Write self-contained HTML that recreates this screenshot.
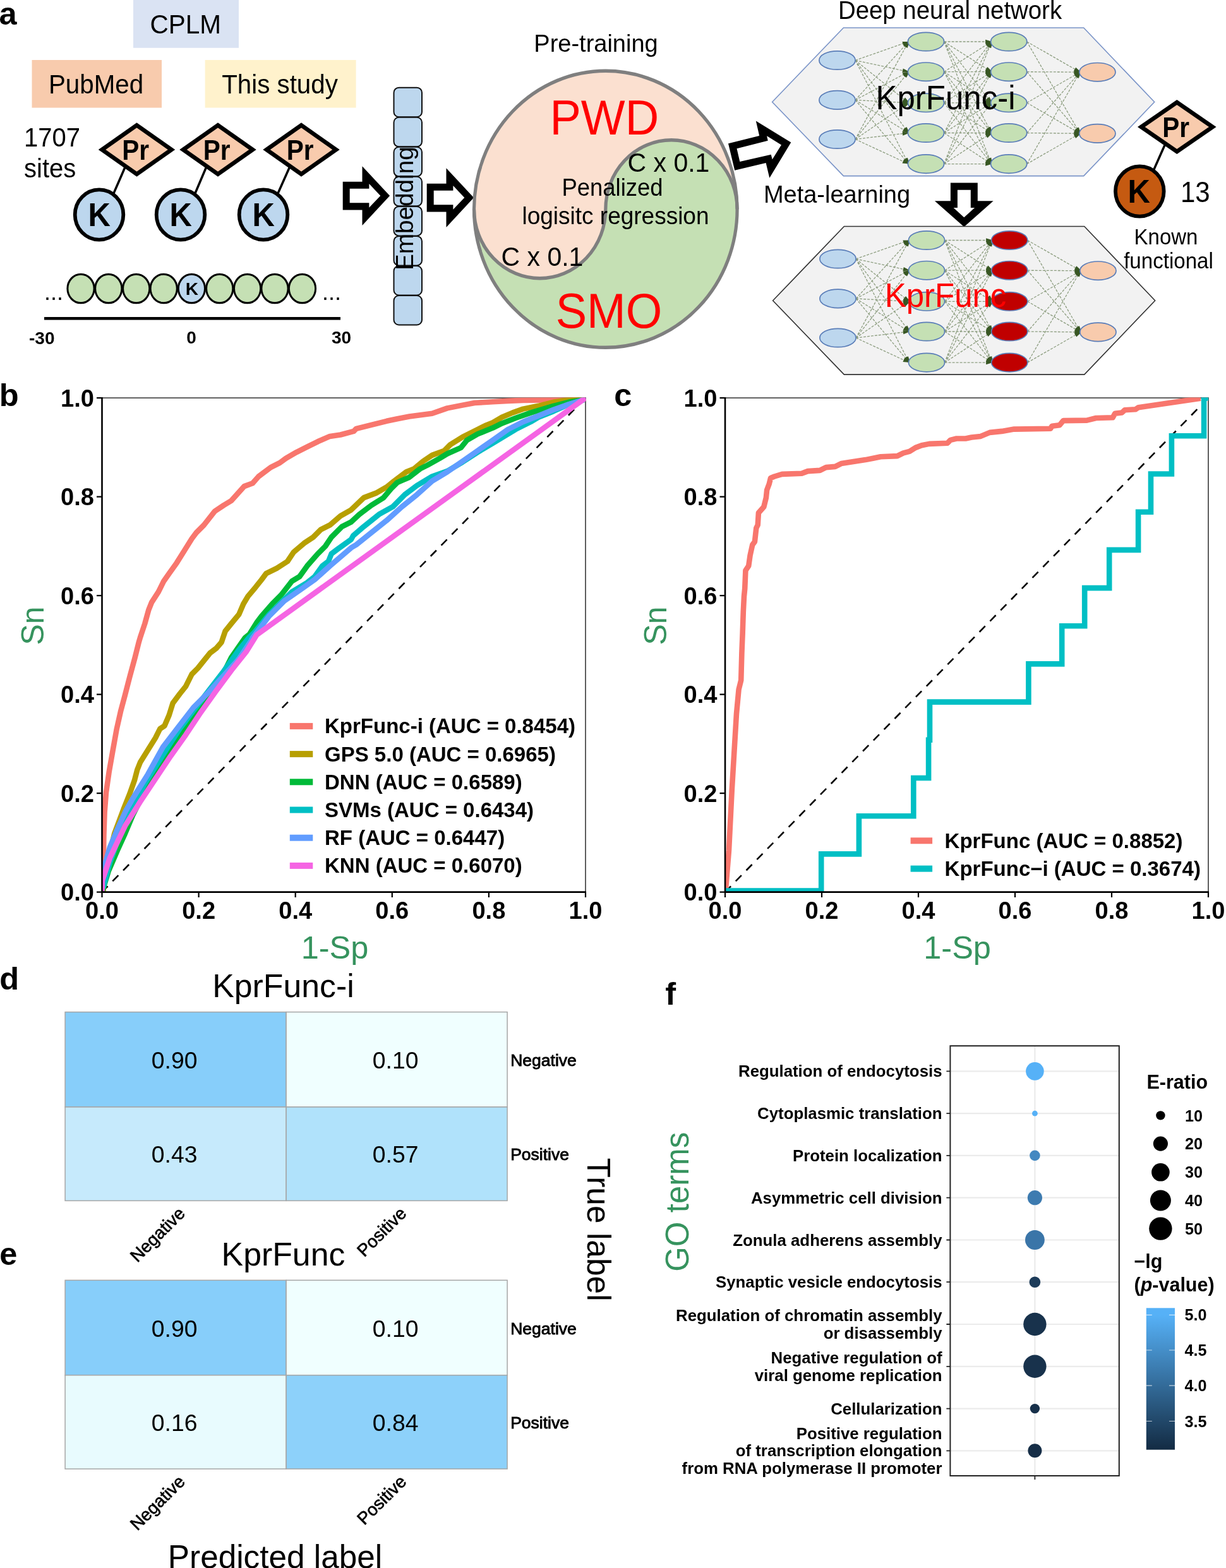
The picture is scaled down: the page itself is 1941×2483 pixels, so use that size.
<!DOCTYPE html>
<html lang="en"><head><meta charset="utf-8"><title>Figure</title>
<style>
html,body{margin:0;padding:0;background:#fff;}
body{width:1941px;height:2483px;overflow:hidden;}
svg{display:block;filter:blur(0.5px);font-family:"Liberation Sans",sans-serif;}
</style></head><body>
<svg width="1941" height="2483" viewBox="0 0 1941 2483">
<rect width="1941" height="2483" fill="#fff"/>
<text x="-1.5" y="39" font-size="50.5" font-weight="bold" fill="#000" text-anchor="start">a</text>
<rect x="211" y="0" width="167" height="75.8" fill="#dae3f3"/>
<text transform="translate(293.7 53.3) scale(1 1.04)" font-size="40.5" fill="#000" text-anchor="middle">CPLM</text>
<rect x="50.5" y="95" width="205.5" height="75.6" fill="#f8cbad"/>
<text transform="translate(152 147.6) scale(1 1.04)" font-size="40.3" fill="#000" text-anchor="middle">PubMed</text>
<rect x="324.6" y="95" width="239" height="75.6" fill="#fff2cc"/>
<text transform="translate(443 147.6) scale(1 1.04)" font-size="40.3" fill="#000" text-anchor="middle">This study</text>
<text transform="translate(38 232) scale(1 1.04)" font-size="40" fill="#000" text-anchor="start">1707</text>
<text transform="translate(38 281) scale(1 1.04)" font-size="40" fill="#000" text-anchor="start">sites</text>
<line x1="199.2" y1="262" x2="178.3" y2="310" stroke="#000" stroke-width="3.5"/>
<line x1="327.7" y1="262" x2="307.3" y2="310" stroke="#000" stroke-width="3.5"/>
<line x1="459.7" y1="262" x2="438.3" y2="310" stroke="#000" stroke-width="3.5"/>
<polygon points="161.5,237 216.5,198.3 271.5,237 216.5,275.7" fill="#f8cbad" stroke="#000" stroke-width="6.6" stroke-linejoin="miter"/><text transform="translate(214.7 253) scale(1 1.1)" font-size="40.5" font-weight="bold" fill="#000" text-anchor="middle">Pr</text>
<polygon points="290,237 345,198.3 400,237 345,275.7" fill="#f8cbad" stroke="#000" stroke-width="6.6" stroke-linejoin="miter"/><text transform="translate(343.2 253) scale(1 1.1)" font-size="40.5" font-weight="bold" fill="#000" text-anchor="middle">Pr</text>
<polygon points="422,237 477,198.3 532,237 477,275.7" fill="#f8cbad" stroke="#000" stroke-width="6.6" stroke-linejoin="miter"/><text transform="translate(475.2 253) scale(1 1.1)" font-size="40.5" font-weight="bold" fill="#000" text-anchor="middle">Pr</text>
<ellipse cx="157" cy="340" rx="38.3" ry="39.699999999999996" fill="#bdd7ee" stroke="#000" stroke-width="5.8"/><text transform="translate(157.3 357.5) scale(1 1.07)" font-size="49" font-weight="bold" fill="#000" text-anchor="middle">K</text>
<ellipse cx="286" cy="340" rx="38.3" ry="39.699999999999996" fill="#bdd7ee" stroke="#000" stroke-width="5.8"/><text transform="translate(286.3 357.5) scale(1 1.07)" font-size="49" font-weight="bold" fill="#000" text-anchor="middle">K</text>
<ellipse cx="417" cy="340" rx="38.3" ry="39.699999999999996" fill="#bdd7ee" stroke="#000" stroke-width="5.8"/><text transform="translate(417.3 357.5) scale(1 1.07)" font-size="49" font-weight="bold" fill="#000" text-anchor="middle">K</text>
<ellipse cx="128" cy="457" rx="21.1" ry="22.8" fill="#c5e0b4" stroke="#000" stroke-width="3"/>
<ellipse cx="171.8" cy="457" rx="21.1" ry="22.8" fill="#c5e0b4" stroke="#000" stroke-width="3"/>
<ellipse cx="215.7" cy="457" rx="21.1" ry="22.8" fill="#c5e0b4" stroke="#000" stroke-width="3"/>
<ellipse cx="259.2" cy="457" rx="21.1" ry="22.8" fill="#c5e0b4" stroke="#000" stroke-width="3"/>
<ellipse cx="303.4" cy="457" rx="21.1" ry="22.8" fill="#bdd7ee" stroke="#000" stroke-width="3"/>
<ellipse cx="347.7" cy="457" rx="21.1" ry="22.8" fill="#c5e0b4" stroke="#000" stroke-width="3"/>
<ellipse cx="391.6" cy="457" rx="21.1" ry="22.8" fill="#c5e0b4" stroke="#000" stroke-width="3"/>
<ellipse cx="435" cy="457" rx="21.1" ry="22.8" fill="#c5e0b4" stroke="#000" stroke-width="3"/>
<ellipse cx="478.5" cy="457" rx="21.1" ry="22.8" fill="#c5e0b4" stroke="#000" stroke-width="3"/>
<text x="303.8" y="467" font-size="28" font-weight="bold" fill="#000" text-anchor="middle">K</text>
<text x="70" y="475" font-size="36" fill="#000" text-anchor="start">...</text>
<text x="510" y="475" font-size="36" fill="#000" text-anchor="start">...</text>
<rect x="70" y="502" width="469" height="4.6" fill="#000"/>
<text x="46" y="545" font-size="28" font-weight="bold" fill="#000" text-anchor="start">-30</text>
<text x="303" y="544" font-size="28" font-weight="bold" fill="#000" text-anchor="middle">0</text>
<text x="525" y="544" font-size="28" font-weight="bold" fill="#000" text-anchor="start">30</text>
<rect x="623.5" y="138.7" width="44.5" height="46.5" rx="8" ry="8" fill="#bdd7ee" stroke="#111" stroke-width="2"/>
<rect x="623.5" y="185.8" width="44.5" height="46.5" rx="8" ry="8" fill="#bdd7ee" stroke="#111" stroke-width="2"/>
<rect x="623.5" y="232.8" width="44.5" height="46.5" rx="8" ry="8" fill="#bdd7ee" stroke="#111" stroke-width="2"/>
<rect x="623.5" y="279.8" width="44.5" height="46.5" rx="8" ry="8" fill="#bdd7ee" stroke="#111" stroke-width="2"/>
<rect x="623.5" y="326.9" width="44.5" height="46.5" rx="8" ry="8" fill="#bdd7ee" stroke="#111" stroke-width="2"/>
<rect x="623.5" y="373.9" width="44.5" height="46.5" rx="8" ry="8" fill="#bdd7ee" stroke="#111" stroke-width="2"/>
<rect x="623.5" y="421.0" width="44.5" height="46.5" rx="8" ry="8" fill="#bdd7ee" stroke="#111" stroke-width="2"/>
<rect x="623.5" y="468.0" width="44.5" height="46.5" rx="8" ry="8" fill="#bdd7ee" stroke="#111" stroke-width="2"/>
<text x="0" y="0" font-size="38.7" fill="#000" text-anchor="start" transform="translate(654 428) rotate(-90)">Embedding</text>
<g><polygon points="542.7,287.7 573.5,287.7 573.5,263.3 617.1,310.0 573.5,356.9 573.5,332.5 542.7,332.5" fill="#000"/><polygon points="553.7,298.8 584.4,298.8 584.4,291.0 602.3,310.0 584.4,328.7 584.4,321.3 553.7,321.3" fill="#fff"/></g>
<g><polygon points="675.7,290.7 706.5,290.7 706.5,266.3 750.1,313.0 706.5,359.9 706.5,335.5 675.7,335.5" fill="#000"/><polygon points="686.7,301.8 717.4,301.8 717.4,294.0 735.3,313.0 717.4,331.7 717.4,324.3 686.7,324.3" fill="#fff"/></g>
<g transform="translate(0 331.3) scale(1 1.0515) translate(0 -331.3)">
<circle cx="958.8" cy="331.3" r="208.3" fill="#c5e0b4"/>
<path d="M750.5 331.3A208.3 208.3 0 0 1 1167.1 331.3A104.15 104.15 0 0 0 958.8 331.3A104.15 104.15 0 0 1 750.5 331.3Z" fill="#fbe0d0"/>
<path d="M1167.1 331.3A104.15 104.15 0 0 0 958.8 331.3A104.15 104.15 0 0 1 750.5 331.3" fill="none" stroke="#7f7f7f" stroke-width="5.2"/>
<circle cx="958.8" cy="331.3" r="208.3" fill="none" stroke="#7f7f7f" stroke-width="5.2"/>
</g>
<text transform="translate(956.8 213) scale(1 1.04)" font-size="74" fill="#ff0000" text-anchor="middle">PWD</text>
<text transform="translate(964 518.5) scale(1 1.04)" font-size="74" fill="#ff0000" text-anchor="middle">SMO</text>
<text transform="translate(1058.5 272) scale(1 1.04)" font-size="41" fill="#000" text-anchor="middle">C x 0.1</text>
<text transform="translate(858.5 420.5) scale(1 1.04)" font-size="41" fill="#000" text-anchor="middle">C x 0.1</text>
<text transform="translate(969.5 309.5) scale(1 1.04)" font-size="36.5" fill="#000" text-anchor="middle">Penalized</text>
<text transform="translate(974.5 354.5) scale(1 1.04)" font-size="37" fill="#000" text-anchor="middle">logisitc regression</text>
<text transform="translate(943.5 82) scale(1 1.04)" font-size="38" fill="#000" text-anchor="middle">Pre-training</text>
<polygon points="1153,227.3 1202.2,215.1 1196.8,191.4 1252.3,225.5 1218.3,281.8 1212.6,257.9 1163.2,269.7" fill="#000"/>
<polygon points="1166.5,235.2 1215.7,222.7 1214.1,215.3 1237,229.6 1222.7,252.6 1220.7,244.7 1171.3,256.1" fill="#fff"/>
<text transform="translate(1504 30) scale(1 1.04)" font-size="38.4" fill="#000" text-anchor="middle">Deep neural network</text>
<polygon points="1222.6,161.5 1335.4,44.0 1715.7,44.0 1827.7,161.5 1715.7,278.6 1335.4,278.6" fill="#f2f2f2" stroke="#7a94c8" stroke-width="1.6"/>
<path d="M1354.1 95.5L1438.4 66.0M1354.1 95.5L1438.4 113.7M1354.1 95.5L1438.4 162.8M1354.1 95.5L1438.4 210.5M1354.1 95.5L1438.4 259.6M1354.1 158.4L1438.4 66.0M1354.1 158.4L1438.4 113.7M1354.1 158.4L1438.4 162.8M1354.1 158.4L1438.4 210.5M1354.1 158.4L1438.4 259.6M1354.1 220.5L1438.4 66.0M1354.1 220.5L1438.4 113.7M1354.1 220.5L1438.4 162.8M1354.1 220.5L1438.4 210.5M1354.1 220.5L1438.4 259.6M1494.6 66.0L1569.6 66.0M1494.6 66.0L1569.6 113.7M1494.6 66.0L1569.6 162.8M1494.6 66.0L1569.6 210.5M1494.6 66.0L1569.6 259.6M1494.6 113.7L1569.6 66.0M1494.6 113.7L1569.6 113.7M1494.6 113.7L1569.6 162.8M1494.6 113.7L1569.6 210.5M1494.6 113.7L1569.6 259.6M1494.6 162.8L1569.6 66.0M1494.6 162.8L1569.6 113.7M1494.6 162.8L1569.6 162.8M1494.6 162.8L1569.6 210.5M1494.6 162.8L1569.6 259.6M1494.6 210.5L1569.6 66.0M1494.6 210.5L1569.6 113.7M1494.6 210.5L1569.6 162.8M1494.6 210.5L1569.6 210.5M1494.6 210.5L1569.6 259.6M1494.6 259.6L1569.6 66.0M1494.6 259.6L1569.6 113.7M1494.6 259.6L1569.6 162.8M1494.6 259.6L1569.6 210.5M1494.6 259.6L1569.6 259.6M1625.8 66.0L1709.8 114.2M1625.8 66.0L1709.8 211.4M1625.8 113.7L1709.8 114.2M1625.8 113.7L1709.8 211.4M1625.8 162.8L1709.8 114.2M1625.8 162.8L1709.8 211.4M1625.8 210.5L1709.8 114.2M1625.8 210.5L1709.8 211.4M1625.8 259.6L1709.8 114.2M1625.8 259.6L1709.8 211.4" fill="none" stroke="#4f6b3a" stroke-width="1.3" stroke-dasharray="4 2" opacity="0.62"/>
<path d="M1439.9 66.0L1430.5 72.2L1428.4 66.1ZM1439.9 113.7L1428.4 114.8L1429.8 108.6ZM1439.9 162.8L1429.0 159.4L1433.0 154.4ZM1439.9 210.5L1430.2 204.7L1435.4 200.9ZM1439.9 259.6L1431.2 252.6L1436.9 249.7ZM1439.9 66.0L1434.4 75.2L1429.6 70.9ZM1439.9 113.7L1431.5 121.0L1428.5 115.3ZM1439.9 162.8L1428.7 165.5L1429.1 159.1ZM1439.9 210.5L1428.6 208.2L1432.0 202.8ZM1439.9 259.6L1429.9 254.3L1434.8 250.3ZM1439.9 66.0L1436.7 75.9L1431.0 72.8ZM1439.9 113.7L1435.0 123.1L1430.0 119.2ZM1439.9 162.8L1432.4 170.8L1428.8 165.5ZM1439.9 210.5L1429.3 214.8L1428.6 208.4ZM1439.9 259.6L1428.4 258.5L1431.1 252.7ZM1571.1 66.0L1560.1 69.2L1560.1 62.8ZM1571.1 113.7L1559.9 111.3L1563.3 105.9ZM1571.1 162.8L1561.3 157.3L1566.3 153.3ZM1571.1 210.5L1562.4 203.5L1568.1 200.6ZM1571.1 259.6L1563.2 251.9L1569.2 249.6ZM1571.1 66.0L1563.3 73.8L1559.9 68.4ZM1571.1 113.7L1560.1 116.9L1560.1 110.5ZM1571.1 162.8L1559.9 160.3L1563.4 154.9ZM1571.1 210.5L1561.3 205.0L1566.3 201.0ZM1571.1 259.6L1562.4 252.6L1568.1 249.7ZM1571.1 66.0L1566.3 75.5L1561.3 71.5ZM1571.1 113.7L1563.4 121.6L1559.9 116.2ZM1571.1 162.8L1560.1 166.0L1560.1 159.6ZM1571.1 210.5L1559.9 208.1L1563.3 202.7ZM1571.1 259.6L1561.3 254.1L1566.3 250.1ZM1571.1 66.0L1568.1 75.9L1562.4 73.0ZM1571.1 113.7L1566.3 123.2L1561.3 119.2ZM1571.1 162.8L1563.3 170.6L1559.9 165.2ZM1571.1 210.5L1560.1 213.7L1560.1 207.3ZM1571.1 259.6L1559.9 257.1L1563.4 251.7ZM1571.1 66.0L1569.2 76.0L1563.2 73.7ZM1571.1 113.7L1568.1 123.6L1562.4 120.7ZM1571.1 162.8L1566.3 172.3L1561.3 168.3ZM1571.1 210.5L1563.4 218.4L1559.9 213.0ZM1571.1 259.6L1560.1 262.8L1560.1 256.4ZM1711.3 114.2L1700.0 112.2L1703.2 106.7ZM1711.3 211.4L1702.3 204.8L1707.8 201.6ZM1711.3 114.2L1700.3 117.3L1700.3 110.9ZM1711.3 211.4L1701.2 206.3L1706.0 202.1ZM1711.3 114.2L1703.2 121.7L1700.0 116.2ZM1711.3 211.4L1700.0 209.4L1703.2 203.9ZM1711.3 114.2L1706.0 123.5L1701.1 119.3ZM1711.3 211.4L1700.3 214.5L1700.3 208.1ZM1711.3 114.2L1707.8 124.0L1702.3 120.8ZM1711.3 211.4L1703.2 218.9L1700.0 213.4Z" fill="#385723"/>
<ellipse cx="1325.5" cy="95.5" rx="28.6" ry="14.7" fill="#bdd7ee" stroke="#5a7db8" stroke-width="1.7"/><ellipse cx="1325.5" cy="158.4" rx="28.6" ry="14.7" fill="#bdd7ee" stroke="#5a7db8" stroke-width="1.7"/><ellipse cx="1325.5" cy="220.5" rx="28.6" ry="14.7" fill="#bdd7ee" stroke="#5a7db8" stroke-width="1.7"/>
<ellipse cx="1466.0" cy="66.0" rx="28.6" ry="14.7" fill="#c5e0b4" stroke="#5a7db8" stroke-width="1.7"/><ellipse cx="1466.0" cy="113.7" rx="28.6" ry="14.7" fill="#c5e0b4" stroke="#5a7db8" stroke-width="1.7"/><ellipse cx="1466.0" cy="162.8" rx="28.6" ry="14.7" fill="#c5e0b4" stroke="#5a7db8" stroke-width="1.7"/><ellipse cx="1466.0" cy="210.5" rx="28.6" ry="14.7" fill="#c5e0b4" stroke="#5a7db8" stroke-width="1.7"/><ellipse cx="1466.0" cy="259.6" rx="28.6" ry="14.7" fill="#c5e0b4" stroke="#5a7db8" stroke-width="1.7"/>
<ellipse cx="1597.2" cy="66.0" rx="28.6" ry="14.7" fill="#c5e0b4" stroke="#5a7db8" stroke-width="1.7"/><ellipse cx="1597.2" cy="113.7" rx="28.6" ry="14.7" fill="#c5e0b4" stroke="#5a7db8" stroke-width="1.7"/><ellipse cx="1597.2" cy="162.8" rx="28.6" ry="14.7" fill="#c5e0b4" stroke="#5a7db8" stroke-width="1.7"/><ellipse cx="1597.2" cy="210.5" rx="28.6" ry="14.7" fill="#c5e0b4" stroke="#5a7db8" stroke-width="1.7"/><ellipse cx="1597.2" cy="259.6" rx="28.6" ry="14.7" fill="#c5e0b4" stroke="#5a7db8" stroke-width="1.7"/>
<ellipse cx="1737.4" cy="114.2" rx="28.6" ry="14.7" fill="#f8cbad" stroke="#5a7db8" stroke-width="1.7"/><ellipse cx="1737.4" cy="211.4" rx="28.6" ry="14.7" fill="#f8cbad" stroke="#5a7db8" stroke-width="1.7"/>
<text transform="translate(1497 172.8) scale(1 1.04)" font-size="51" fill="#000" text-anchor="middle">KprFunc-i</text>
<text transform="translate(1325 321) scale(1 1.04)" font-size="38" fill="#000" text-anchor="middle">Meta-learning</text>
<polygon points="1504.9,289.5 1547.8,289.5 1547.8,318.2 1572.6,318.2 1526.3,359.2 1479.9,318.2 1504.9,318.2" fill="#000"/>
<polygon points="1515.9,300.8 1536.8,300.8 1536.8,329 1543.1,329 1526.3,344.3 1509.6,329 1515.9,329" fill="#fff"/>
<polygon points="1223.6,476.0 1336.4,358.5 1716.7,358.5 1828.7,476.0 1716.7,593.1 1336.4,593.1" fill="#f2f2f2" stroke="#333" stroke-width="1.6"/>
<path d="M1355.1 410.0L1439.4 380.5M1355.1 410.0L1439.4 428.2M1355.1 410.0L1439.4 477.3M1355.1 410.0L1439.4 525.0M1355.1 410.0L1439.4 574.1M1355.1 472.9L1439.4 380.5M1355.1 472.9L1439.4 428.2M1355.1 472.9L1439.4 477.3M1355.1 472.9L1439.4 525.0M1355.1 472.9L1439.4 574.1M1355.1 535.0L1439.4 380.5M1355.1 535.0L1439.4 428.2M1355.1 535.0L1439.4 477.3M1355.1 535.0L1439.4 525.0M1355.1 535.0L1439.4 574.1M1495.6 380.5L1570.6 380.5M1495.6 380.5L1570.6 428.2M1495.6 380.5L1570.6 477.3M1495.6 380.5L1570.6 525.0M1495.6 380.5L1570.6 574.1M1495.6 428.2L1570.6 380.5M1495.6 428.2L1570.6 428.2M1495.6 428.2L1570.6 477.3M1495.6 428.2L1570.6 525.0M1495.6 428.2L1570.6 574.1M1495.6 477.3L1570.6 380.5M1495.6 477.3L1570.6 428.2M1495.6 477.3L1570.6 477.3M1495.6 477.3L1570.6 525.0M1495.6 477.3L1570.6 574.1M1495.6 525.0L1570.6 380.5M1495.6 525.0L1570.6 428.2M1495.6 525.0L1570.6 477.3M1495.6 525.0L1570.6 525.0M1495.6 525.0L1570.6 574.1M1495.6 574.1L1570.6 380.5M1495.6 574.1L1570.6 428.2M1495.6 574.1L1570.6 477.3M1495.6 574.1L1570.6 525.0M1495.6 574.1L1570.6 574.1M1626.8 380.5L1710.8 428.7M1626.8 380.5L1710.8 525.9M1626.8 428.2L1710.8 428.7M1626.8 428.2L1710.8 525.9M1626.8 477.3L1710.8 428.7M1626.8 477.3L1710.8 525.9M1626.8 525.0L1710.8 428.7M1626.8 525.0L1710.8 525.9M1626.8 574.1L1710.8 428.7M1626.8 574.1L1710.8 525.9" fill="none" stroke="#4f6b3a" stroke-width="1.3" stroke-dasharray="4 2" opacity="0.62"/>
<path d="M1440.9 380.5L1431.5 386.7L1429.4 380.6ZM1440.9 428.2L1429.4 429.3L1430.8 423.1ZM1440.9 477.3L1430.0 473.9L1434.0 468.9ZM1440.9 525.0L1431.2 519.2L1436.4 515.4ZM1440.9 574.1L1432.2 567.1L1437.9 564.2ZM1440.9 380.5L1435.4 389.7L1430.6 385.4ZM1440.9 428.2L1432.5 435.5L1429.5 429.8ZM1440.9 477.3L1429.7 480.0L1430.1 473.6ZM1440.9 525.0L1429.6 522.7L1433.0 517.3ZM1440.9 574.1L1430.9 568.8L1435.8 564.8ZM1440.9 380.5L1437.7 390.4L1432.0 387.3ZM1440.9 428.2L1436.0 437.6L1431.0 433.7ZM1440.9 477.3L1433.4 485.3L1429.8 480.0ZM1440.9 525.0L1430.3 529.3L1429.6 522.9ZM1440.9 574.1L1429.4 573.0L1432.1 567.2ZM1572.1 380.5L1561.1 383.7L1561.1 377.3ZM1572.1 428.2L1560.9 425.8L1564.3 420.4ZM1572.1 477.3L1562.3 471.8L1567.3 467.8ZM1572.1 525.0L1563.4 518.0L1569.1 515.1ZM1572.1 574.1L1564.2 566.4L1570.2 564.1ZM1572.1 380.5L1564.3 388.3L1560.9 382.9ZM1572.1 428.2L1561.1 431.4L1561.1 425.0ZM1572.1 477.3L1560.9 474.8L1564.4 469.4ZM1572.1 525.0L1562.3 519.5L1567.3 515.5ZM1572.1 574.1L1563.4 567.1L1569.1 564.2ZM1572.1 380.5L1567.3 390.0L1562.3 386.0ZM1572.1 428.2L1564.4 436.1L1560.9 430.7ZM1572.1 477.3L1561.1 480.5L1561.1 474.1ZM1572.1 525.0L1560.9 522.6L1564.3 517.2ZM1572.1 574.1L1562.3 568.6L1567.3 564.6ZM1572.1 380.5L1569.1 390.4L1563.4 387.5ZM1572.1 428.2L1567.3 437.7L1562.3 433.7ZM1572.1 477.3L1564.3 485.1L1560.9 479.7ZM1572.1 525.0L1561.1 528.2L1561.1 521.8ZM1572.1 574.1L1560.9 571.6L1564.4 566.2ZM1572.1 380.5L1570.2 390.5L1564.2 388.2ZM1572.1 428.2L1569.1 438.1L1563.4 435.2ZM1572.1 477.3L1567.3 486.8L1562.3 482.8ZM1572.1 525.0L1564.4 532.9L1560.9 527.5ZM1572.1 574.1L1561.1 577.3L1561.1 570.9ZM1712.3 428.7L1701.0 426.7L1704.2 421.2ZM1712.3 525.9L1703.3 519.3L1708.8 516.1ZM1712.3 428.7L1701.3 431.8L1701.3 425.4ZM1712.3 525.9L1702.2 520.8L1707.0 516.6ZM1712.3 428.7L1704.2 436.2L1701.0 430.7ZM1712.3 525.9L1701.0 523.9L1704.2 518.4ZM1712.3 428.7L1707.0 438.0L1702.1 433.8ZM1712.3 525.9L1701.3 529.0L1701.3 522.6ZM1712.3 428.7L1708.8 438.5L1703.3 435.3ZM1712.3 525.9L1704.2 533.4L1701.0 527.9Z" fill="#385723"/>
<ellipse cx="1326.5" cy="410.0" rx="28.6" ry="14.7" fill="#bdd7ee" stroke="#5a7db8" stroke-width="1.7"/><ellipse cx="1326.5" cy="472.9" rx="28.6" ry="14.7" fill="#bdd7ee" stroke="#5a7db8" stroke-width="1.7"/><ellipse cx="1326.5" cy="535.0" rx="28.6" ry="14.7" fill="#bdd7ee" stroke="#5a7db8" stroke-width="1.7"/>
<ellipse cx="1467.0" cy="380.5" rx="28.6" ry="14.7" fill="#c5e0b4" stroke="#5a7db8" stroke-width="1.7"/><ellipse cx="1467.0" cy="428.2" rx="28.6" ry="14.7" fill="#c5e0b4" stroke="#5a7db8" stroke-width="1.7"/><ellipse cx="1467.0" cy="477.3" rx="28.6" ry="14.7" fill="#c5e0b4" stroke="#5a7db8" stroke-width="1.7"/><ellipse cx="1467.0" cy="525.0" rx="28.6" ry="14.7" fill="#c5e0b4" stroke="#5a7db8" stroke-width="1.7"/><ellipse cx="1467.0" cy="574.1" rx="28.6" ry="14.7" fill="#c5e0b4" stroke="#5a7db8" stroke-width="1.7"/>
<ellipse cx="1598.2" cy="380.5" rx="28.6" ry="14.7" fill="#c00000" stroke="#5a7db8" stroke-width="1.7"/><ellipse cx="1598.2" cy="428.2" rx="28.6" ry="14.7" fill="#c00000" stroke="#5a7db8" stroke-width="1.7"/><ellipse cx="1598.2" cy="477.3" rx="28.6" ry="14.7" fill="#c00000" stroke="#5a7db8" stroke-width="1.7"/><ellipse cx="1598.2" cy="525.0" rx="28.6" ry="14.7" fill="#c00000" stroke="#5a7db8" stroke-width="1.7"/><ellipse cx="1598.2" cy="574.1" rx="28.6" ry="14.7" fill="#c00000" stroke="#5a7db8" stroke-width="1.7"/>
<ellipse cx="1738.4" cy="428.7" rx="28.6" ry="14.7" fill="#f8cbad" stroke="#5a7db8" stroke-width="1.7"/><ellipse cx="1738.4" cy="525.9" rx="28.6" ry="14.7" fill="#f8cbad" stroke="#5a7db8" stroke-width="1.7"/>
<text transform="translate(1497 486.2) scale(1 1.04)" font-size="51" fill="#ff0000" text-anchor="middle">KprFunc</text>
<line x1="1845.7" y1="226" x2="1825.3" y2="272" stroke="#000" stroke-width="3.5"/>
<polygon points="1806.8,201 1863.3,162 1919.8,201 1863.3,240" fill="#f8cbad" stroke="#000" stroke-width="6.6" stroke-linejoin="miter"/><text transform="translate(1861.5 217) scale(1 1.1)" font-size="40.5" font-weight="bold" fill="#000" text-anchor="middle">Pr</text>
<ellipse cx="1804.3" cy="303" rx="38.3" ry="39.699999999999996" fill="#c55a11" stroke="#000" stroke-width="5.8"/><text transform="translate(1803.3 320.5) scale(1 1.07)" font-size="49" font-weight="bold" fill="#000" text-anchor="middle">K</text>
<text transform="translate(1869 319.7) scale(1 1.08)" font-size="42" fill="#000" text-anchor="start">13</text>
<text transform="translate(1846 386.6) scale(1 1.05)" font-size="33" fill="#000" text-anchor="middle">Known</text>
<text transform="translate(1850 425.4) scale(1 1.05)" font-size="33.1" fill="#000" text-anchor="middle">functional</text>
<text x="-1.2" y="643" font-size="50.5" font-weight="bold" fill="#000" text-anchor="start">b</text>
<path d="M161.5 630.0999999999999H927.0V1412.6" fill="none" stroke="#4d4d4d" stroke-width="1.8"/>
<line x1="161.5" y1="1412.6" x2="927.0" y2="630.0999999999999" stroke="#000" stroke-width="2.6" stroke-dasharray="13 11"/>
<clipPath id="clipb"><rect x="161.5" y="629.5999999999999" width="766.3" height="783.0"/></clipPath><g clip-path="url(#clipb)">
<path d="M163.2 1411.6L163.7 1370.3L164.4 1322.3L165.6 1286.2L168.0 1255.0L172.8 1221.4L178.3 1190.2L184.8 1154.1L191.3 1125.3L198.0 1100.3L205.2 1072.5L213.7 1041.2L219.7 1017.2L222.1 1009.1L229.3 987.5L235.3 965.9L240.1 953.9L250.9 937.1L259.3 920.2L267.7 908.2L279.7 891.4L291.7 872.2L303.7 853.0L310.9 843.4L322.9 831.4L339.8 809.8L354.2 800.1L366.2 792.9L386.6 770.1L399.8 765.3L409.4 754.5L428.6 740.1L443.0 732.9L452.7 725.7L469.5 716.1L486.3 707.7L503.1 699.3L522.3 690.9L539.1 688.5L560.0 682.9L564.0 678.8L588.0 672.8L612.1 666.8L628.9 663.2L648.1 659.6L684.1 654.8L708.1 646.4L732.2 641.6L751.4 638.0L780.2 636.3L804.2 634.9L828.2 633.9L876.3 633.2L924.3 633.2" fill="none" stroke="#f8766d" stroke-width="8.6" stroke-linejoin="round"/>
<path d="M163.2 1411.6L169.2 1370.3L181.2 1319.9L195.6 1281.4L205.2 1257.4L212.9 1235.8L217.3 1219.0L222.1 1207.0L234.1 1187.7L246.1 1168.5L253.3 1154.1L260.5 1149.3L267.7 1132.5L273.7 1113.3L284.5 1098.9L294.1 1086.9L303.7 1067.6L313.3 1058.0L322.9 1046.0L332.6 1034.0L342.2 1026.8L350.6 1017.2L356.6 999.5L366.2 987.5L378.2 973.1L385.4 956.3L392.6 944.3L404.6 929.9L414.2 917.8L421.4 908.2L438.2 899.8L455.1 889.0L464.7 874.6L481.5 860.2L495.9 850.6L507.9 838.6L522.3 831.4L539.1 817.0L555.9 807.4L576.0 788.1L595.2 780.9L612.1 771.3L624.1 761.7L643.3 747.3L655.3 742.5L669.7 730.5L684.1 720.9L703.3 713.7L712.9 704.1L732.2 692.1L756.2 680.0L768.2 674.0L780.2 669.2L794.6 660.8L811.4 653.6L828.2 647.6L852.3 642.8L876.3 636.8L900.3 633.2L924.3 632.0" fill="none" stroke="#b79f00" stroke-width="8.6" stroke-linejoin="round"/>
<path d="M162.0 1411.6L171.6 1379.9L186.0 1346.3L198.0 1319.9L210.1 1291.0L229.3 1252.6L250.9 1216.6L274.9 1178.1L294.1 1154.1L318.1 1122.9L337.4 1098.9L366.2 1041.2L387.8 1010.1L395.0 1004.3L407.0 985.1L414.2 975.5L431.0 956.3L445.4 941.9L462.3 920.2L474.3 913.0L486.3 896.2L503.1 877.0L515.1 865.0L524.7 850.6L541.5 833.8L555.9 826.6L568.8 814.6L588.0 800.1L607.3 788.1L619.3 773.7L628.9 764.1L648.1 755.7L664.9 742.5L676.9 736.5L696.1 725.7L708.1 718.5L729.8 708.9L739.4 696.9L756.2 687.3L780.2 677.6L794.6 670.4L816.2 662.0L840.2 653.6L876.3 642.8L900.3 636.8L924.3 633.2" fill="none" stroke="#00ba38" stroke-width="8.6" stroke-linejoin="round"/>
<path d="M163.2 1406.3L174.0 1365.5L186.0 1331.9L210.1 1279.0L229.3 1240.6L246.1 1214.2L262.9 1187.7L284.5 1154.1L306.1 1125.3L330.1 1094.1L354.2 1062.8L378.2 1029.2L393.8 1010.1L402.2 1001.9L426.2 973.1L450.2 949.1L462.3 937.1L486.3 922.7L498.3 913.0L510.3 896.2L519.9 889.0L524.7 877.0L534.3 869.8L555.9 854.2L559.2 848.2L576.0 833.8L600.0 814.6L621.7 802.6L640.9 783.3L660.1 768.9L684.1 754.5L708.1 746.1L732.2 731.7L756.2 716.1L780.2 701.7L816.2 680.0L840.2 668.0L852.3 660.8L876.3 651.2L900.3 640.4L924.3 633.2" fill="none" stroke="#00bfc4" stroke-width="8.6" stroke-linejoin="round"/>
<path d="M161.5 1384.7L174.0 1341.5L186.0 1312.7L198.0 1286.2L210.1 1264.6L222.1 1245.4L234.1 1226.2L258.1 1182.9L282.1 1151.7L306.1 1120.5L330.1 1096.5L354.2 1070.0L378.2 1043.6L397.4 1014.8L399.8 1010.1L426.2 975.5L450.2 951.5L474.3 934.7L498.3 917.8L522.3 896.2L555.9 867.4L564.0 862.6L588.0 843.4L612.1 824.2L636.1 802.6L660.1 783.3L684.1 761.7L708.1 747.3L732.2 730.5L756.2 713.7L780.2 696.9L804.2 680.0L828.2 668.0L852.3 658.4L876.3 648.8L900.3 640.4L924.3 633.2" fill="none" stroke="#619cff" stroke-width="8.6" stroke-linejoin="round"/>
<path d="M161.5 1411.6L162.0 1394.3L174.0 1358.3L198.0 1307.8L222.1 1269.4L246.1 1233.4L270.1 1197.4L294.1 1163.7L318.1 1127.7L342.2 1094.1L366.2 1061.6L390.2 1031.6L406.5 1005.2L927.0 630.1" fill="none" stroke="#f564e3" stroke-width="8.6" stroke-linejoin="round"/>
</g>
<path d="M161.5 629.0999999999999V1412.6H928.0" fill="none" stroke="#000" stroke-width="2.6" stroke-linecap="butt" stroke-linejoin="miter"/>
<path d="M153.0 1412.6H161.5M161.5 1412.6v8.5" stroke="#000" stroke-width="2.2" fill="none"/>
<text x="149.0" y="1426.4" font-size="38.1" font-weight="bold" fill="#000" text-anchor="end">0.0</text>
<text x="161.5" y="1455.3" font-size="38.1" font-weight="bold" fill="#000" text-anchor="middle">0.0</text>
<path d="M153.0 1256.1H161.5M314.6 1412.6v8.5" stroke="#000" stroke-width="2.2" fill="none"/>
<text x="149.0" y="1269.9" font-size="38.1" font-weight="bold" fill="#000" text-anchor="end">0.2</text>
<text x="314.6" y="1455.3" font-size="38.1" font-weight="bold" fill="#000" text-anchor="middle">0.2</text>
<path d="M153.0 1099.6H161.5M467.7 1412.6v8.5" stroke="#000" stroke-width="2.2" fill="none"/>
<text x="149.0" y="1113.4" font-size="38.1" font-weight="bold" fill="#000" text-anchor="end">0.4</text>
<text x="467.7" y="1455.3" font-size="38.1" font-weight="bold" fill="#000" text-anchor="middle">0.4</text>
<path d="M153.0 943.1H161.5M620.8 1412.6v8.5" stroke="#000" stroke-width="2.2" fill="none"/>
<text x="149.0" y="956.9" font-size="38.1" font-weight="bold" fill="#000" text-anchor="end">0.6</text>
<text x="620.8" y="1455.3" font-size="38.1" font-weight="bold" fill="#000" text-anchor="middle">0.6</text>
<path d="M153.0 786.6H161.5M773.9 1412.6v8.5" stroke="#000" stroke-width="2.2" fill="none"/>
<text x="149.0" y="800.4" font-size="38.1" font-weight="bold" fill="#000" text-anchor="end">0.8</text>
<text x="773.9" y="1455.3" font-size="38.1" font-weight="bold" fill="#000" text-anchor="middle">0.8</text>
<path d="M153.0 630.1H161.5M927.0 1412.6v8.5" stroke="#000" stroke-width="2.2" fill="none"/>
<text x="149.0" y="643.9" font-size="38.1" font-weight="bold" fill="#000" text-anchor="end">1.0</text>
<text x="927.0" y="1455.3" font-size="38.1" font-weight="bold" fill="#000" text-anchor="middle">1.0</text>
<rect x="458.8" y="1144.9" width="36.5" height="10" fill="#f8766d"/>
<text x="514" y="1161.3" font-size="33" font-weight="bold" fill="#000" text-anchor="start">KprFunc-i (AUC = 0.8454)</text>
<rect x="458.8" y="1189.1" width="36.5" height="10" fill="#b79f00"/>
<text x="514" y="1205.5" font-size="33" font-weight="bold" fill="#000" text-anchor="start">GPS 5.0 (AUC = 0.6965)</text>
<rect x="458.8" y="1233.3" width="36.5" height="10" fill="#00ba38"/>
<text x="514" y="1249.7" font-size="33" font-weight="bold" fill="#000" text-anchor="start">DNN (AUC = 0.6589)</text>
<rect x="458.8" y="1277.5" width="36.5" height="10" fill="#00bfc4"/>
<text x="514" y="1293.9" font-size="33" font-weight="bold" fill="#000" text-anchor="start">SVMs (AUC = 0.6434)</text>
<rect x="458.8" y="1321.7" width="36.5" height="10" fill="#619cff"/>
<text x="514" y="1338.1" font-size="33" font-weight="bold" fill="#000" text-anchor="start">RF (AUC = 0.6447)</text>
<rect x="458.8" y="1365.9" width="36.5" height="10" fill="#f564e3"/>
<text x="514" y="1382.3" font-size="33" font-weight="bold" fill="#000" text-anchor="start">KNN (AUC = 0.6070)</text>
<text x="0" y="0" font-size="50" fill="#36935e" text-anchor="middle" transform="translate(68.5 991) rotate(-90)">Sn</text>
<text x="530" y="1518" font-size="50.5" fill="#36935e" text-anchor="middle">1-Sp</text>
<text x="972.3" y="643" font-size="50.5" font-weight="bold" fill="#000" text-anchor="start">c</text>
<path d="M1148 630.0999999999999H1913V1412.6" fill="none" stroke="#4d4d4d" stroke-width="1.8"/>
<line x1="1148" y1="1412.6" x2="1913" y2="630.0999999999999" stroke="#000" stroke-width="2.6" stroke-dasharray="13 11"/>
<clipPath id="clipc"><rect x="1148" y="629.5999999999999" width="765.8" height="783.0"/></clipPath><g clip-path="url(#clipc)">
<path d="M1148.7 1411.6L1154.0 1346.3L1158.8 1250.2L1166.0 1130.1L1169.6 1091.7L1173.2 1077.3L1174.4 1034.0L1175.6 1004.3L1176.8 968.3L1178.0 944.3L1179.2 932.3L1180.4 903.4L1185.2 896.2L1187.6 879.4L1191.3 862.6L1194.9 857.8L1197.3 836.2L1199.7 831.4L1200.9 812.2L1209.3 802.6L1212.9 788.1L1214.1 776.1L1217.7 766.5L1220.1 756.9L1226.1 754.5L1238.1 750.9L1269.3 749.7L1278.9 746.1L1298.1 744.9L1307.7 740.1L1322.2 738.9L1331.8 734.1L1346.2 731.7L1370.2 728.1L1382.2 725.7L1394.2 723.3L1420.6 722.1L1430.2 717.3L1439.9 714.9L1449.5 708.9L1459.1 705.3L1471.1 702.9L1499.9 701.7L1504.7 696.9L1514.3 694.5L1528.7 694.5L1538.2 692.5L1552.6 690.9L1567.0 684.9L1586.2 682.9L1605.5 679.6L1663.1 678.8L1665.5 674.8L1677.5 673.3L1683.5 666.1L1720.8 665.6L1735.2 662.0L1761.6 661.3L1765.2 654.8L1776.0 653.6L1780.8 649.3L1797.6 648.3L1802.4 645.2L1900.9 630.8" fill="none" stroke="#f8766d" stroke-width="8.6" stroke-linejoin="round"/>
<path d="M1148 1410.6H1300.2V1352.4H1359.9V1292.2H1446.3V1232.0H1470.1V1171.8H1472.0V1111.6H1628.4V1051.4H1681.2V991.3H1717.2V931.1H1756.2V870.9H1802.1V810.7H1822.0V750.5H1854.9V690.3H1906.1V630.1H1913" fill="none" stroke="#00bfc4" stroke-width="8.6" stroke-linejoin="miter"/></g>
<path d="M1148 629.0999999999999V1412.6H1914" fill="none" stroke="#000" stroke-width="2.6" stroke-linecap="butt" stroke-linejoin="miter"/>
<path d="M1139.5 1412.6H1148M1148.0 1412.6v8.5" stroke="#000" stroke-width="2.2" fill="none"/>
<text x="1135.5" y="1426.4" font-size="38.1" font-weight="bold" fill="#000" text-anchor="end">0.0</text>
<text x="1148.0" y="1455.3" font-size="38.1" font-weight="bold" fill="#000" text-anchor="middle">0.0</text>
<path d="M1139.5 1256.1H1148M1301.0 1412.6v8.5" stroke="#000" stroke-width="2.2" fill="none"/>
<text x="1135.5" y="1269.9" font-size="38.1" font-weight="bold" fill="#000" text-anchor="end">0.2</text>
<text x="1301.0" y="1455.3" font-size="38.1" font-weight="bold" fill="#000" text-anchor="middle">0.2</text>
<path d="M1139.5 1099.6H1148M1454.0 1412.6v8.5" stroke="#000" stroke-width="2.2" fill="none"/>
<text x="1135.5" y="1113.4" font-size="38.1" font-weight="bold" fill="#000" text-anchor="end">0.4</text>
<text x="1454.0" y="1455.3" font-size="38.1" font-weight="bold" fill="#000" text-anchor="middle">0.4</text>
<path d="M1139.5 943.1H1148M1607.0 1412.6v8.5" stroke="#000" stroke-width="2.2" fill="none"/>
<text x="1135.5" y="956.9" font-size="38.1" font-weight="bold" fill="#000" text-anchor="end">0.6</text>
<text x="1607.0" y="1455.3" font-size="38.1" font-weight="bold" fill="#000" text-anchor="middle">0.6</text>
<path d="M1139.5 786.6H1148M1760.0 1412.6v8.5" stroke="#000" stroke-width="2.2" fill="none"/>
<text x="1135.5" y="800.4" font-size="38.1" font-weight="bold" fill="#000" text-anchor="end">0.8</text>
<text x="1760.0" y="1455.3" font-size="38.1" font-weight="bold" fill="#000" text-anchor="middle">0.8</text>
<path d="M1139.5 630.1H1148M1913.0 1412.6v8.5" stroke="#000" stroke-width="2.2" fill="none"/>
<text x="1135.5" y="643.9" font-size="38.1" font-weight="bold" fill="#000" text-anchor="end">1.0</text>
<text x="1913.0" y="1455.3" font-size="38.1" font-weight="bold" fill="#000" text-anchor="middle">1.0</text>
<rect x="1441.6" y="1326.3" width="34.5" height="10" fill="#f8766d"/>
<text x="1495.6" y="1342.7" font-size="33" font-weight="bold" fill="#000" text-anchor="start">KprFunc (AUC = 0.8852)</text>
<rect x="1441.6" y="1370.6" width="34.5" height="10" fill="#00bfc4"/>
<text x="1495.6" y="1387.0" font-size="33" font-weight="bold" fill="#000" text-anchor="start">KprFunc−i (AUC = 0.3674)</text>
<text x="0" y="0" font-size="50" fill="#36935e" text-anchor="middle" transform="translate(1055 991) rotate(-90)">Sn</text>
<text x="1515.6" y="1518" font-size="50.5" fill="#36935e" text-anchor="middle">1-Sp</text>
<text x="-0.8" y="1566.9" font-size="50.5" font-weight="bold" fill="#000" text-anchor="start">d</text>
<text x="448.5" y="1579.1" font-size="51.8" fill="#000" text-anchor="middle">KprFunc-i</text>
<rect x="103.1" y="1602.6" width="350.0" height="150.4" fill="#87cefa" stroke="#a6a6a6" stroke-width="1.5"/>
<text x="276.1" y="1692.0" font-size="37.3" fill="#000" text-anchor="middle">0.90</text>
<rect x="453.1" y="1602.6" width="350.0" height="150.4" fill="#f0ffff" stroke="#a6a6a6" stroke-width="1.5"/>
<text x="626.1" y="1692.0" font-size="37.3" fill="#000" text-anchor="middle">0.10</text>
<rect x="103.1" y="1753.0" width="350.0" height="148.4" fill="#c6eafc" stroke="#a6a6a6" stroke-width="1.5"/>
<text x="276.1" y="1841.4" font-size="37.3" fill="#000" text-anchor="middle">0.43</text>
<rect x="453.1" y="1753.0" width="350.0" height="148.4" fill="#b0e2fb" stroke="#a6a6a6" stroke-width="1.5"/>
<text x="626.1" y="1841.4" font-size="37.3" fill="#000" text-anchor="middle">0.57</text>
<text x="808.2" y="1687.8" font-size="26.5" fill="#000" text-anchor="start" stroke="#000" stroke-width="0.9">Negative</text>
<text x="808.2" y="1837.2" font-size="26.5" fill="#000" text-anchor="start" stroke="#000" stroke-width="0.9">Positive</text>
<text x="0" y="0" font-size="27.6" fill="#000" text-anchor="end" stroke="#000" stroke-width="0.7" transform="translate(294.5 1923.1) rotate(-45)">Negative</text>
<text x="0" y="0" font-size="27.6" fill="#000" text-anchor="end" stroke="#000" stroke-width="0.7" transform="translate(645 1923.1) rotate(-45)">Positive</text>
<text x="-0.8" y="2003.3" font-size="50.5" font-weight="bold" fill="#000" text-anchor="start">e</text>
<text x="448.5" y="2003.8" font-size="51.8" fill="#000" text-anchor="middle">KprFunc</text>
<rect x="103.1" y="2027.3" width="350.0" height="150.4" fill="#87cefa" stroke="#a6a6a6" stroke-width="1.5"/>
<text x="276.1" y="2116.7" font-size="37.3" fill="#000" text-anchor="middle">0.90</text>
<rect x="453.1" y="2027.3" width="350.0" height="150.4" fill="#f0ffff" stroke="#a6a6a6" stroke-width="1.5"/>
<text x="626.1" y="2116.7" font-size="37.3" fill="#000" text-anchor="middle">0.10</text>
<rect x="103.1" y="2177.7" width="350.0" height="148.4" fill="#e8fbfe" stroke="#a6a6a6" stroke-width="1.5"/>
<text x="276.1" y="2266.1" font-size="37.3" fill="#000" text-anchor="middle">0.16</text>
<rect x="453.1" y="2177.7" width="350.0" height="148.4" fill="#8dd1fa" stroke="#a6a6a6" stroke-width="1.5"/>
<text x="626.1" y="2266.1" font-size="37.3" fill="#000" text-anchor="middle">0.84</text>
<text x="808.2" y="2112.5" font-size="26.5" fill="#000" text-anchor="start" stroke="#000" stroke-width="0.9">Negative</text>
<text x="808.2" y="2261.9" font-size="26.5" fill="#000" text-anchor="start" stroke="#000" stroke-width="0.9">Positive</text>
<text x="0" y="0" font-size="27.6" fill="#000" text-anchor="end" stroke="#000" stroke-width="0.7" transform="translate(294.5 2347.8) rotate(-45)">Negative</text>
<text x="0" y="0" font-size="27.6" fill="#000" text-anchor="end" stroke="#000" stroke-width="0.7" transform="translate(645 2347.8) rotate(-45)">Positive</text>
<text x="0" y="0" font-size="51.5" fill="#000" text-anchor="start" transform="translate(930.2 1833.6) rotate(90)">True label</text>
<text x="435.5" y="2483" font-size="51.3" fill="#000" text-anchor="middle">Predicted label</text>
<text x="1053.3" y="1590.6" font-size="50.5" font-weight="bold" fill="#000" text-anchor="start">f</text>
<rect x="1504.4" y="1656.2" width="267.4" height="680.8" fill="#fff"/>
<path d="M1504.4 1696.4H1771.8M1504.4 1763.2H1771.8M1504.4 1829.9H1771.8M1504.4 1896.7H1771.8M1504.4 1963.5H1771.8M1504.4 2030.2H1771.8M1504.4 2097.0H1771.8M1504.4 2163.8H1771.8M1504.4 2230.6H1771.8M1504.4 2297.3H1771.8M1638.4 1656.2V2337" stroke="#ebebeb" stroke-width="2.2" fill="none"/>
<rect x="1504.4" y="1656.2" width="267.4" height="680.8" fill="none" stroke="#222" stroke-width="2"/>
<path d="M1498.4 1696.4H1504.4M1498.4 1763.2H1504.4M1498.4 1829.9H1504.4M1498.4 1896.7H1504.4M1498.4 1963.5H1504.4M1498.4 2030.2H1504.4M1498.4 2097.0H1504.4M1498.4 2163.8H1504.4M1498.4 2230.6H1504.4M1498.4 2297.3H1504.4M1638.4 2337v6" stroke="#222" stroke-width="1.8" fill="none"/>
<circle cx="1638.4" cy="1696.4" r="14.3" fill="#56b1f7"/>
<circle cx="1638.4" cy="1763.2" r="4.4" fill="#56b1f7"/>
<circle cx="1638.4" cy="1829.9" r="8.3" fill="#4488c1"/>
<circle cx="1638.4" cy="1896.7" r="11.6" fill="#3d7bb0"/>
<circle cx="1638.4" cy="1963.5" r="15.4" fill="#3a75a8"/>
<circle cx="1638.4" cy="2030.2" r="8.8" fill="#1d3c5a"/>
<circle cx="1638.4" cy="2097.0" r="18.2" fill="#18324c"/>
<circle cx="1638.4" cy="2163.8" r="18.2" fill="#18324c"/>
<circle cx="1638.4" cy="2230.6" r="7.7" fill="#17304a"/>
<circle cx="1638.4" cy="2297.3" r="11" fill="#162e47"/>
<text x="1491.5" y="1705.4" font-size="25.8" font-weight="bold" fill="#000" text-anchor="end">Regulation of endocytosis</text>
<text x="1491.5" y="1772.2" font-size="25.8" font-weight="bold" fill="#000" text-anchor="end">Cytoplasmic translation</text>
<text x="1491.5" y="1838.9" font-size="25.8" font-weight="bold" fill="#000" text-anchor="end">Protein localization</text>
<text x="1491.5" y="1905.7" font-size="25.8" font-weight="bold" fill="#000" text-anchor="end">Asymmetric cell division</text>
<text x="1491.5" y="1972.5" font-size="25.8" font-weight="bold" fill="#000" text-anchor="end">Zonula adherens assembly</text>
<text x="1491.5" y="2039.2" font-size="25.8" font-weight="bold" fill="#000" text-anchor="end">Synaptic vesicle endocytosis</text>
<text x="1491.5" y="2092.1" font-size="25.8" font-weight="bold" fill="#000" text-anchor="end">Regulation of chromatin assembly</text>
<text x="1491.5" y="2119.9" font-size="25.8" font-weight="bold" fill="#000" text-anchor="end">or disassembly</text>
<text x="1491.5" y="2158.9" font-size="25.8" font-weight="bold" fill="#000" text-anchor="end">Negative regulation of</text>
<text x="1491.5" y="2186.7" font-size="25.8" font-weight="bold" fill="#000" text-anchor="end">viral genome replication</text>
<text x="1491.5" y="2239.6" font-size="25.8" font-weight="bold" fill="#000" text-anchor="end">Cellularization</text>
<text x="1491.5" y="2278.5" font-size="25.8" font-weight="bold" fill="#000" text-anchor="end">Positive regulation</text>
<text x="1491.5" y="2306.3" font-size="25.8" font-weight="bold" fill="#000" text-anchor="end">of transcription elongation</text>
<text x="1491.5" y="2334.1" font-size="25.8" font-weight="bold" fill="#000" text-anchor="end">from RNA polymerase II promoter</text>
<text x="0" y="0" font-size="51" fill="#36935e" text-anchor="middle" transform="translate(1089.7 1903.3) rotate(-90)">GO terms</text>
<text x="1815.5" y="1724" font-size="30.5" font-weight="bold" fill="#000" text-anchor="start">E-ratio</text>
<circle cx="1837.4" cy="1766.4" r="7.2" fill="#000"/>
<text x="1876" y="1775.5" font-size="25.2" font-weight="bold" fill="#000" text-anchor="start">10</text>
<circle cx="1837.4" cy="1811.1" r="11.6" fill="#000"/>
<text x="1876" y="1820.2" font-size="25.2" font-weight="bold" fill="#000" text-anchor="start">20</text>
<circle cx="1837.4" cy="1856.3" r="14.3" fill="#000"/>
<text x="1876" y="1865.4" font-size="25.2" font-weight="bold" fill="#000" text-anchor="start">30</text>
<circle cx="1837.4" cy="1901" r="16.5" fill="#000"/>
<text x="1876" y="1910.1" font-size="25.2" font-weight="bold" fill="#000" text-anchor="start">40</text>
<circle cx="1837.4" cy="1945.6" r="18.2" fill="#000"/>
<text x="1876" y="1954.7" font-size="25.2" font-weight="bold" fill="#000" text-anchor="start">50</text>
<text x="1795.5" y="2007.9" font-size="30.5" font-weight="bold" fill="#000" text-anchor="start">−lg</text>
<text x="1795.5" y="2045.4" font-size="30.5" font-weight="bold">(<tspan font-style="italic">p</tspan>-value)</text>
<defs><linearGradient id="cb" x1="0" y1="0" x2="0" y2="1"><stop offset="0" stop-color="#56b1f7"/><stop offset="0.05" stop-color="#56b1f7"/><stop offset="1" stop-color="#132b43"/></linearGradient></defs>
<rect x="1814.8" y="2071.3" width="45.2" height="224.4" fill="url(#cb)"/>
<path d="M1814.8 2082.3h9M1860 2082.3h-9" stroke="#fff" stroke-width="1.2" opacity="0.7"/>
<text x="1875.5" y="2091.4" font-size="25.2" font-weight="bold" fill="#000" text-anchor="start">5.0</text>
<path d="M1814.8 2138h9M1860 2138h-9" stroke="#fff" stroke-width="1.2" opacity="0.7"/>
<text x="1875.5" y="2147.1" font-size="25.2" font-weight="bold" fill="#000" text-anchor="start">4.5</text>
<path d="M1814.8 2194.2h9M1860 2194.2h-9" stroke="#fff" stroke-width="1.2" opacity="0.7"/>
<text x="1875.5" y="2203.3" font-size="25.2" font-weight="bold" fill="#000" text-anchor="start">4.0</text>
<path d="M1814.8 2250.5h9M1860 2250.5h-9" stroke="#fff" stroke-width="1.2" opacity="0.7"/>
<text x="1875.5" y="2259.6" font-size="25.2" font-weight="bold" fill="#000" text-anchor="start">3.5</text>
</svg>
</body></html>
